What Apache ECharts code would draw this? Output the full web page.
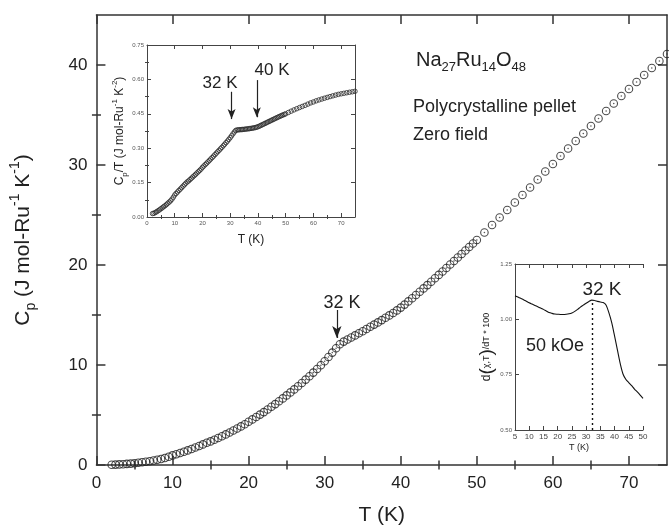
<!DOCTYPE html>
<html>
<head>
<meta charset="utf-8">
<script src="https://cdn.jsdelivr.net/npm/echarts@6/dist/echarts.min.js"></script>
<style>
html, body { margin: 0; padding: 0; background: #fff; }
#heatChart { width: 669px; height: 531px; }
</style>
</head>
<body>
<div id="heatChart"></div>
<script>
var FONT = 'Liberation Sans, Arial, Helvetica, sans-serif';
var INK = '#222';

// main panel: Cp vs T
var tempK = [2,2.5,3,3.5,4,4.5,5,5.5,6,6.5,7,7.5,8,8.5,9,9.5,
	10,10.5,11,11.5,12,12.5,13,13.5,14,14.5,15,15.5,16,16.5,17,17.5,
	18,18.5,19,19.5,20,20.5,21,21.5,22,22.5,23,23.5,24,24.5,25,25.5,
	26,26.5,27,27.5,28,28.5,29,29.5,30,30.5,31,31.5,32,32.5,33,33.5,
	34,34.5,35,35.5,36,36.5,37,37.5,38,38.5,39,39.5,40,40.5,41,41.5,
	42,42.5,43,43.5,44,44.5,45,45.5,46,46.5,47,47.5,48,48.5,49,49.5,
	50,51,52,53,54,55,56,57,58,59,60,61,62,63,64,65,66,67,68,69,70,71,72,73,74,75];
var heatCap = [0.03,0.04,0.06,0.08,0.11,0.14,0.18,0.22,0.27,0.32,0.38,0.45,0.52,0.60,0.70,0.82,
	0.96,1.08,1.20,1.33,1.46,1.60,1.75,1.90,2.06,2.22,2.36,2.53,2.70,2.88,3.06,3.25,
	3.45,3.65,3.86,4.08,4.33,4.56,4.80,5.04,5.29,5.55,5.82,6.09,6.37,6.66,6.96,7.26,
	7.56,7.88,8.20,8.54,8.88,9.24,9.60,9.98,10.38,10.80,11.24,11.68,12.08,12.34,12.55,12.75,
	12.96,13.17,13.38,13.60,13.82,14.04,14.26,14.49,14.72,14.96,15.20,15.46,15.74,16.04,16.36,16.68,
	17.00,17.33,17.66,17.99,18.33,18.67,19.01,19.35,19.70,20.05,20.40,20.75,21.10,21.45,21.80,22.15,
	22.50,23.25,24.00,24.75,25.50,26.25,27.00,27.75,28.55,29.35,30.10,30.90,31.65,32.40,33.15,33.90,
	34.65,35.40,36.15,36.90,37.60,38.30,39.00,39.70,40.40,41.10];

// right inset: d(chi T)/dT at 50 kOe
var chiTempK = [5,6,7,8,9,10,11,12,13,14,15,16,17,18,19,20,21,22,23,24,25,26,27,28,29,
	30,31,32,33,34,35,36,37,38,39,40,41,42,43,44,45,46,47,48,49,50];
var dChiT = [1.107,1.101,1.095,1.089,1.082,1.075,1.069,1.063,1.057,1.051,
	1.045,1.038,1.031,1.027,1.024,1.023,1.022,1.022,1.023,1.025,
	1.029,1.036,1.045,1.055,1.064,1.073,1.081,1.087,1.085,1.081,
	1.078,1.076,1.065,1.030,0.985,0.925,0.862,0.800,0.752,0.728,
	0.714,0.700,0.685,0.672,0.658,0.643];

// tick labels
var mainXTicks = [0,10,20,30,40,50,60,70];
var mainXMinor = [5,15,25,35,45,55,65];
var mainYTicks = [0,10,20,30,40];
var mainYMinor = [5,15,25,35];
var cpTYTicks = [0,0.15,0.30,0.45,0.60,0.75];
var cpTYMinor = [0.075,0.225,0.375,0.525,0.675];
var chiXTicks = [5,10,15,20,25,30,35,40,45,50];
var chiYTicks = [0.50,0.75,1.00,1.25];

var heatChart = echarts.init(document.getElementById('heatChart'));

var xAxes = [];
var yAxes = [];

// one side of a frame: line + long ticks (+labels), then an extra axis just for the short ticks
function addSide(list, grid, pos, min, max, majors, minors, s) {
	var major = {
		type: 'value', gridIndex: grid, position: pos, min: min, max: max,
		axisLine: { show: true, onZero: false, lineStyle: { color: s.color, width: s.lineW } },
		axisTick: { show: true, inside: true, length: s.majorLen, customValues: majors,
			lineStyle: { color: s.color, width: s.lineW } },
		axisLabel: { show: !!s.label, customValues: majors, fontSize: s.labelSize, margin: s.margin,
			color: s.labelColor || INK, fontFamily: FONT, formatter: s.fmt },
		splitLine: { show: false }
	};
	if (s.name) {
		major.name = s.name;
		major.nameLocation = 'middle';
		major.nameGap = s.nameGap;
		major.nameRotate = s.nameRotate;
		major.nameTextStyle = { fontSize: s.nameSize, color: INK, fontFamily: FONT, rich: s.rich };
	}
	list.push(major);
	var idx = list.length - 1;
	if (minors) {
		list.push({
			type: 'value', gridIndex: grid, position: pos, min: min, max: max,
			axisLine: { show: false },
			axisTick: { show: true, inside: true, length: s.minorLen, customValues: minors,
				lineStyle: { color: s.color, width: s.lineW } },
			axisLabel: { show: false },
			splitLine: { show: false }
		});
	}
	return idx;
}

function subSup(base) {
	return {
		sub: { fontSize: Math.round(base * 0.68), fontFamily: FONT, color: INK, verticalAlign: 'bottom', lineHeight: base * 1.45 },
		sup: { fontSize: Math.round(base * 0.68), fontFamily: FONT, color: INK, verticalAlign: 'top', lineHeight: base * 1.45 }
	};
}

/* main frame */
var mainStyle = { color: '#333', lineW: 1.5, majorLen: 9, minorLen: 4.5 };
var mX = addSide(xAxes, 0, 'bottom', 0, 75, mainXTicks, mainXMinor, Object.assign({}, mainStyle, {
	label: true, labelSize: 17, margin: 10, name: 'T (K)', nameGap: 40, nameSize: 21 }));
addSide(xAxes, 0, 'top', 0, 75, mainXTicks, mainXMinor, mainStyle);
var mY = addSide(yAxes, 0, 'left', 0, 45, mainYTicks, mainYMinor, Object.assign({}, mainStyle, {
	label: true, labelSize: 17, margin: 9, name: 'C{sub|p} (J mol-Ru{sup|-1} K{sup|-1})',
	nameGap: 58, nameRotate: 90, nameSize: 21, rich: subSup(21) }));
addSide(yAxes, 0, 'right', 0, 45, mainYTicks, mainYMinor, mainStyle);

/* inset Cp/T */
var insStyle = { color: '#444', lineW: 1, majorLen: 4, minorLen: 2 };
var iX = addSide(xAxes, 1, 'bottom', 0, 75, mainXTicks, mainXMinor, Object.assign({}, insStyle, {
	label: true, labelSize: 6, margin: 3, labelColor: '#555', name: 'T (K)', nameGap: 17, nameSize: 12 }));
addSide(xAxes, 1, 'top', 0, 75, mainXTicks, mainXMinor, insStyle);
var iY = addSide(yAxes, 1, 'left', 0, 0.75, cpTYTicks, cpTYMinor, Object.assign({}, insStyle, {
	label: true, labelSize: 6, margin: 3, labelColor: '#555', fmt: function (v) { return v.toFixed(2); },
	name: 'C{sub|p}/T (J mol-Ru{sup|-1} K{sup|-2})', nameGap: 18, nameRotate: 90, nameSize: 12, rich: subSup(12) }));
addSide(yAxes, 1, 'right', 0, 0.75, cpTYTicks, cpTYMinor, insStyle);

/* inset d(chi T)/dT */
var cX = addSide(xAxes, 2, 'bottom', 5, 50, chiXTicks, null, Object.assign({}, insStyle, {
	label: true, labelSize: 8, margin: 3, labelColor: '#444', name: 'T (K)', nameGap: 13, nameSize: 9 }));
addSide(xAxes, 2, 'top', 5, 50, chiXTicks, null, insStyle);
var cY = addSide(yAxes, 2, 'left', 0.5, 1.25, chiYTicks, null, Object.assign({}, insStyle, {
	label: true, labelSize: 6, margin: 3, labelColor: '#555', fmt: function (v) { return v.toFixed(2); },
	name: '{d|d}{p|(}{s|χ,T}{p|)}{s|/dT * 100}', nameGap: 17, nameRotate: 90, nameSize: 11,
	rich: {
		d: { fontSize: 12, fontFamily: FONT, color: INK },
		p: { fontSize: 19, fontFamily: FONT, color: INK },
		s: { fontSize: 9, fontFamily: FONT, color: INK }
	} }));

var mainPairs = [];
var cpTPairs = [];
for (var i = 0; i < tempK.length; i++) {
	mainPairs.push([tempK[i], heatCap[i]]);
	cpTPairs.push([tempK[i], heatCap[i] / tempK[i]]);
}
var chiPairs = [];
for (var j = 0; j < chiTempK.length; j++) {
	chiPairs.push([chiTempK[j], dChiT[j]]);
}

var arrowLine = { color: INK, width: 1.2, type: 'solid' };

var option = {
	animation: false,
	backgroundColor: '#fff',
	textStyle: { fontFamily: FONT },
	grid: [
		{ left: 95, right: 2, top: 15, bottom: 61, containLabel: false },
		{ left: 147, right: 314, top: 45, bottom: 314, show: true, backgroundColor: '#fff', borderWidth: 0 },
		{ left: 515, right: 26, top: 264, bottom: 101, show: true, backgroundColor: '#fff', borderWidth: 0 }
	],
	xAxis: xAxes,
	yAxis: yAxes,
	series: [
		{
			type: 'scatter', xAxisIndex: mX, yAxisIndex: mY, data: mainPairs,
			symbol: 'circle', symbolSize: 7.5, silent: true,
			itemStyle: { color: 'rgba(0,0,0,0)', borderColor: '#1e1e1e', borderWidth: 1.1 },
			markLine: {
				silent: true, symbol: ['none', 'arrow'], symbolSize: [7, 12],
				label: { show: false }, lineStyle: arrowLine,
				data: [[{ coord: [31.6, 15.5] }, { coord: [31.6, 12.7] }]]
			}
		},
		{
			// centre dots of the open circles
			type: 'scatter', xAxisIndex: mX, yAxisIndex: mY, data: mainPairs,
			symbol: 'circle', symbolSize: 1.6, silent: true,
			itemStyle: { color: '#333' }
		},
		{
			type: 'scatter', xAxisIndex: iX, yAxisIndex: iY, data: cpTPairs,
			symbol: 'circle', symbolSize: 4.5, silent: true,
			itemStyle: { color: 'rgba(0,0,0,0)', borderColor: '#2a2a2a', borderWidth: 1 },
			markLine: {
				silent: true, symbol: ['none', 'arrow'], symbolSize: [6, 10],
				label: { show: false }, lineStyle: arrowLine,
				data: [
					[{ coord: [30.5, 0.546] }, { coord: [30.5, 0.427] }],
					[{ coord: [39.6, 0.597] }, { coord: [39.6, 0.435] }]
				]
			}
		},
		{
			type: 'line', xAxisIndex: cX, yAxisIndex: cY, data: chiPairs,
			showSymbol: false, smooth: 0.3, silent: true,
			lineStyle: { color: '#111', width: 1.1 },
			markLine: {
				silent: true, symbol: ['none', 'none'],
				label: { show: false },
				lineStyle: { color: '#111', width: 1.4, type: [2, 3] },
				data: [[{ coord: [32.3, 0.5] }, { coord: [32.3, 1.085] }]]
			}
		}
	],
	graphic: [
		{ type: 'text', x: 416, y: 60, silent: true, style: {
			text: '{n|Na}{s|27}{n|Ru}{s|14}{n|O}{s|48}', verticalAlign: 'middle',
			rich: {
				n: { fontSize: 20, fontFamily: FONT, fill: INK, lineHeight: 28 },
				s: { fontSize: 13, fontFamily: FONT, fill: INK, verticalAlign: 'bottom', lineHeight: 28 }
			} } },
		{ type: 'text', x: 413, y: 107, silent: true, style: {
			text: 'Polycrystalline pellet', fontSize: 18, fontFamily: FONT, fill: INK, verticalAlign: 'middle' } },
		{ type: 'text', x: 413, y: 135, silent: true, style: {
			text: 'Zero field', fontSize: 18, fontFamily: FONT, fill: INK, verticalAlign: 'middle' } },
		{ type: 'text', x: 342, y: 303, silent: true, style: {
			text: '32 K', fontSize: 18, fontFamily: FONT, fill: INK, align: 'center', verticalAlign: 'middle' } },
		{ type: 'text', x: 220, y: 83, silent: true, style: {
			text: '32 K', fontSize: 17, fontFamily: FONT, fill: INK, align: 'center', verticalAlign: 'middle' } },
		{ type: 'text', x: 272, y: 70, silent: true, style: {
			text: '40 K', fontSize: 17, fontFamily: FONT, fill: INK, align: 'center', verticalAlign: 'middle' } },
		{ type: 'text', x: 602, y: 290, silent: true, style: {
			text: '32 K', fontSize: 19, fontFamily: FONT, fill: INK, align: 'center', verticalAlign: 'middle' } },
		{ type: 'text', x: 555, y: 346, silent: true, style: {
			text: '50 kOe', fontSize: 18, fontFamily: FONT, fill: INK, align: 'center', verticalAlign: 'middle' } }
	]
};

heatChart.setOption(option);
</script>
</body>
</html>
